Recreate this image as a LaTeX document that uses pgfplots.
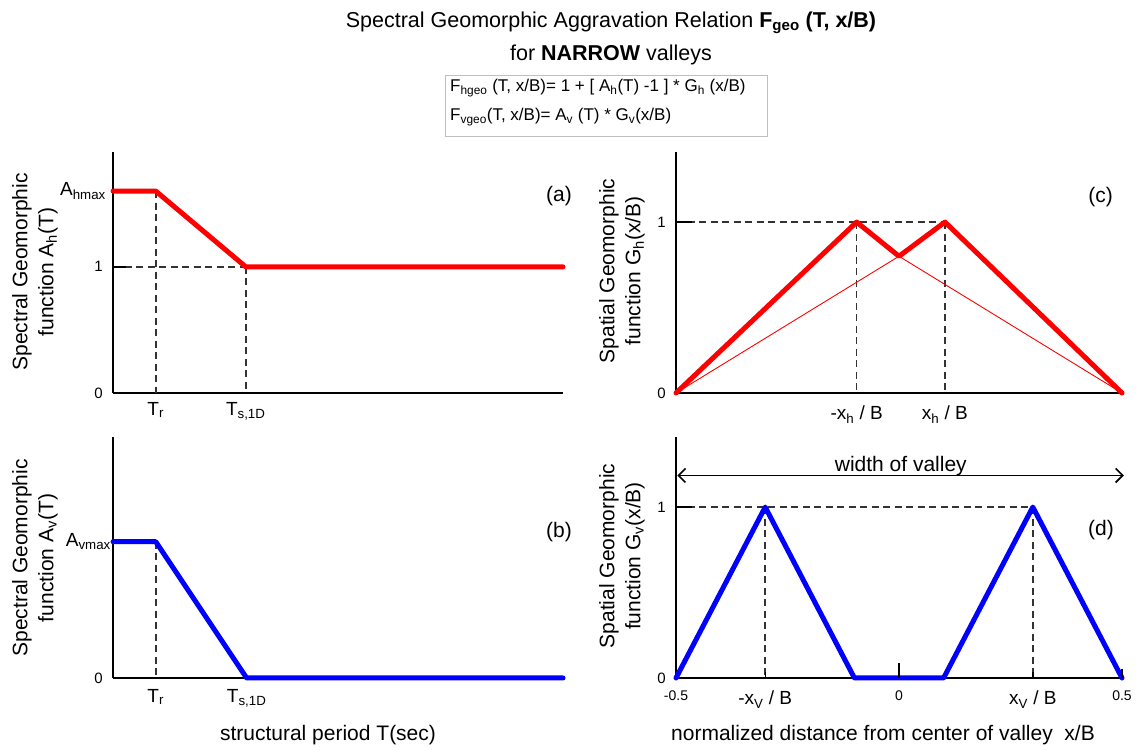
\documentclass[border=0pt]{standalone}
\usepackage{fontspec}
\setmainfont{Liberation Sans}
\usepackage{pgfplots}
\pgfplotsset{compat=1.18}
\usetikzlibrary{arrows.meta}
\definecolor{pred}{RGB}{255,0,0}
\definecolor{pblue}{RGB}{0,0,255}
\newcommand{\lab}{\fontsize{21}{26}\selectfont}
\newcommand{\tlab}{\fontsize{19}{22}\selectfont}
\newcommand{\nlab}{\fontsize{15}{18}\selectfont}
\newcommand{\slab}{\fontsize{14}{16}\selectfont}
\newcommand{\blab}{\fontsize{17}{20}\selectfont}
\pgfplotsset{
 panel/.style={
   scale only axis, height=241pt, anchor=south west,
   axis x line*=bottom, axis y line*=left,
   axis line style={-, line width=1.6pt, black},
   every outer x axis line/.append style={-},
   every outer y axis line/.append style={-},
   clip=false,
   tick align=inside,
   major tick length=0pt,
   xticklabel style={font=\tlab, inner sep=0pt, anchor=north},
   yticklabel style={font=\nlab, inner sep=0pt, anchor=east, xshift=-10pt},
 },
 dsh/.style={black!80, line width=1.6pt, dash pattern=on 7pt off 4.5pt},
 thick red/.style={pred, line width=5pt, line cap=round, line join=round},
 thick blue/.style={pblue, line width=5pt, line cap=round, line join=round},
}
\begin{document}
\begin{tikzpicture}[x=1pt,y=1pt]
\useasboundingbox (0,0) rectangle (1142,751);

% title
\node[font=\fontsize{21.5}{26}\selectfont] at (611,728) {Spectral Geomorphic Aggravation Relation \textbf{F\textsubscript{geo} (T, x/B)}};
\node[font=\fontsize{21.5}{26}\selectfont] at (611,696) {for \textbf{NARROW} valleys};
\draw[black!25, line width=1pt] (445,614) rectangle (767,675);
\node[anchor=west, font=\blab, inner sep=0pt] at (450,663) {F\textsubscript{hgeo} (T, x/B)= 1 + [ A\textsubscript{h}(T) -1 ] * G\textsubscript{h} (x/B)};
\node[anchor=west, font=\blab, inner sep=0pt] at (450,634) {F\textsubscript{vgeo}(T, x/B)= A\textsubscript{v} (T) * G\textsubscript{v}(x/B)};

% (a)
\begin{axis}[panel, at={(113pt,358pt)}, width=450pt,
  xmin=0, xmax=10, ymin=0, ymax=1.91,
  xtick={0.95,2.95}, xticklabels={T\textsubscript{r}, T\textsubscript{s,1D}},
  xticklabel style={yshift=-9pt},
  ytick={0,1,1.6}, yticklabels={0,1,{\tlab A\textsubscript{hmax}\kern-3pt}}]
\addplot[dsh] coordinates {(0,1) (2.95,1)};
\addplot[dsh] coordinates {(0.95,1.6) (0.95,0)};
\addplot[dsh] coordinates {(2.95,1) (2.95,0)};
\addplot[thick red] coordinates {(0,1.6) (0.95,1.6) (2.95,1) (10,1)};
\draw[line width=1.6pt] (axis cs:0,1) -- ([xshift=13pt]axis cs:0,1);
\node[anchor=east, font=\lab, inner sep=0pt] at (axis cs:10.2,1.56) {(a)};
\end{axis}

% (b)
\begin{axis}[panel, at={(113pt,73pt)}, width=450pt,
  xmin=0, xmax=10, ymin=0, ymax=1.91,
  xtick={0.95,2.97}, xticklabels={T\textsubscript{r}, T\textsubscript{s,1D}},
  xticklabel style={yshift=-11pt},
  ytick={0,1.08}, yticklabels={0,{\tlab A\textsubscript{vmax}\kern-8pt}}]
\addplot[dsh] coordinates {(0.95,1.08) (0.95,0)};
\addplot[thick blue] coordinates {(0,1.08) (0.95,1.08) (2.97,0) (10,0)};
\node[anchor=east, font=\lab, inner sep=0pt] at (axis cs:10.2,1.16) {(b)};
\end{axis}

% (c)
\begin{axis}[panel, at={(676pt,358pt)}, width=446pt,
  xmin=-0.5, xmax=0.5, ymin=0, ymax=1.41,
  xtick={-0.095,0.103}, xticklabels={-x\textsubscript{h} / B, x\textsubscript{h} / B},
  xticklabel style={yshift=-13pt},
  ytick={0,1}, yticklabels={0,1}]
\addplot[dsh] coordinates {(-0.5,1) (0.103,1)};
\addplot[dsh] coordinates {(-0.095,1) (-0.095,0)};
\addplot[dsh] coordinates {(0.103,1) (0.103,0)};
\addplot[pred, line width=0.9pt] coordinates {(-0.5,0) (0,0.80) (0.5,0)};
\addplot[thick red] coordinates {(-0.5,0) (-0.095,1) (0,0.80) (0.103,1) (0.5,0)};
\draw[line width=1.8pt] (axis cs:-0.5,1) -- ([xshift=16pt]axis cs:-0.5,1);
\node[anchor=east, font=\lab, inner sep=0pt] at (axis cs:0.48,1.146) {(c)};
\end{axis}

% (d)
\begin{axis}[panel, at={(676pt,73pt)}, width=446pt,
  xmin=-0.5, xmax=0.5, ymin=0, ymax=1.41,
  xtick={-0.5,-0.3,0,0.3,0.5},
  xticklabels={{\slab -0.5}, -x\textsubscript{V} / B, {\slab 0}, x\textsubscript{V} / B, {\slab 0.5}},
  xticklabel style={yshift=-13pt},
  ytick={0,1}, yticklabels={0,1}]
\addplot[dsh] coordinates {(-0.5,1) (0.3,1)};
\addplot[dsh] coordinates {(-0.3,1) (-0.3,0)};
\addplot[dsh] coordinates {(0.3,1) (0.3,0)};
\addplot[thick blue] coordinates {(-0.5,0) (-0.3,1) (-0.1,0) (0.1,0) (0.3,1) (0.5,0)};
\draw[line width=1.8pt] (axis cs:-0.5,1) -- ([xshift=16pt]axis cs:-0.5,1);
\draw[line width=1.4pt] (axis cs:0,0) -- ([yshift=15pt]axis cs:0,0);
\draw[line width=1.4pt] (axis cs:-0.3,0) -- ([yshift=6pt]axis cs:-0.3,0);
\draw[line width=1.4pt] (axis cs:0.3,0) -- ([yshift=6pt]axis cs:0.3,0);
\draw[line width=1.4pt] (axis cs:0.5,0) -- ([yshift=9pt]axis cs:0.5,0);
\draw[{Straight Barb[length=7pt,width=14pt]}-{Straight Barb[length=7pt,width=14pt]}, line width=1.6pt]
  (axis cs:-0.497,1.185) -- (axis cs:0.504,1.185);
\node[anchor=base, font=\lab, inner sep=0pt] at (axis cs:0.004,1.206) {width of valley};
\node[anchor=east, font=\lab, inner sep=0pt] at (axis cs:0.482,0.865) {(d)};
\end{axis}

% axis titles
\node[rotate=90, align=center, font=\lab] at (35,479) {Spectral Geomorphic\\function A\textsubscript{h}(T)};
\node[rotate=90, align=center, font=\lab] at (35,193) {Spectral Geomorphic\\function A\textsubscript{v}(T)};
\node[rotate=90, align=center, font=\lab] at (622,480) {Spatial Geomorphic\\function G\textsubscript{h}(x/B)};
\node[rotate=90, align=center, font=\lab] at (622,195) {Spatial Geomorphic\\function G\textsubscript{v}(x/B)};
\node[font=\lab] at (328,16) {structural period T(sec)};
\node[font=\lab] at (883,16) {normalized distance from center of valley\ \ x/B};
\end{tikzpicture}
\end{document}
